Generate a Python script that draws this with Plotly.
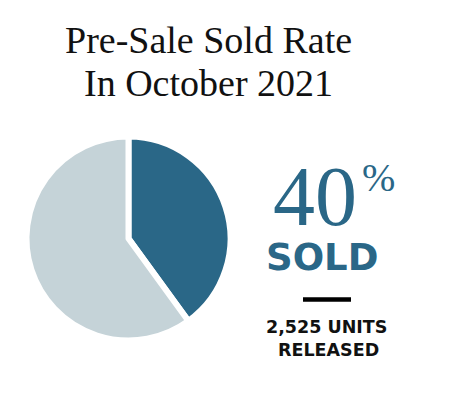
import plotly.graph_objects as go

W, H = 454, 394
labels = ["Sold", "Unsold"]
values = [40, 60]
colors = ["#2A6787", "#C5D3D8"]
title_lines = ["Pre-Sale Sold Rate", "In October 2021"]
pct_text = "40"
units_text = ["2,525 UNITS", "RELEASED"]

def px(x):
    return x / W

def py(y):
    return 1 - y / H

fig = go.Figure()
fig.add_trace(go.Pie(
    labels=labels, values=values, sort=False, direction="clockwise", rotation=0,
    marker=dict(colors=colors, line=dict(color="white", width=6)),
    textinfo="none", hoverinfo="label+percent", showlegend=False,
    domain=dict(x=[px(26.5), px(230.5)], y=[py(340.5), py(136.5)]),
))

serif = "Liberation Serif"
sans = "DejaVu Sans"
ann = []
ann.append(dict(x=px(208), y=py(40), text=title_lines[0], showarrow=False,
                font=dict(family=serif, size=38, color="#111"), xanchor="center", yanchor="middle"))
ann.append(dict(x=px(208), y=py(83), text=title_lines[1], showarrow=False,
                font=dict(family=serif, size=38, color="#111"), xanchor="center", yanchor="middle"))
ann.append(dict(x=px(315), y=py(196), text=pct_text, showarrow=False, height=72, valign="middle",
                font=dict(family=serif, size=84, color=colors[0]), xanchor="center", yanchor="middle"))
ann.append(dict(x=px(378), y=py(177), text="%", showarrow=False,
                font=dict(family=serif, size=40, color=colors[0]), xanchor="center", yanchor="middle"))
ann.append(dict(x=px(322), y=py(257), text="<b>SOLD</b>", showarrow=False,
                font=dict(family=sans, size=37, color=colors[0]), xanchor="center", yanchor="middle"))
ann.append(dict(x=px(326), y=py(326.5), text="<b>" + units_text[0] + "</b>", showarrow=False,
                font=dict(family=sans, size=17.5, color="#111"), xanchor="center", yanchor="middle"))
ann.append(dict(x=px(328), y=py(350), text="<b>" + units_text[1] + "</b>", showarrow=False,
                font=dict(family=sans, size=17.5, color="#111"), xanchor="center", yanchor="middle"))

fig.update_layout(
    width=W, height=H, margin=dict(l=0, r=0, t=0, b=0),
    paper_bgcolor="white", plot_bgcolor="white",
    annotations=ann,
    shapes=[dict(type="line", xref="paper", yref="paper", x0=px(303), x1=px(351),
                 y0=py(299.5), y1=py(299.5), line=dict(color="black", width=4.5))],
)
fig.write_html("out.html", config={"displayModeBar": False},
               post_script="document.body.style.margin='0';")
